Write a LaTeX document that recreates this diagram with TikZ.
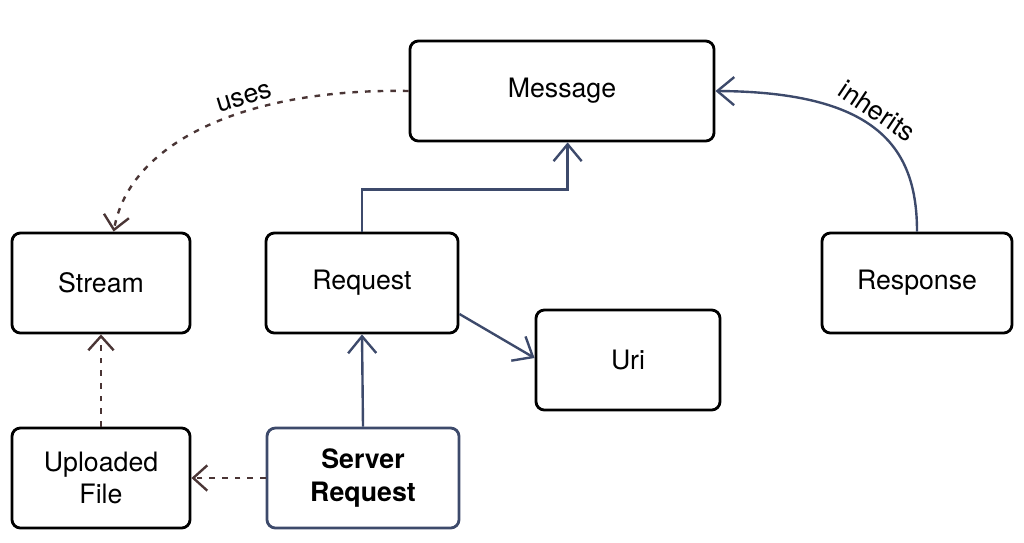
\documentclass[tikz,border=0pt]{standalone}
\usepackage{fontspec}
\setmainfont{TeX Gyre Heros}
\usetikzlibrary{arrows.meta,positioning}
\definecolor{linkblue}{HTML}{3D4A6B}
\definecolor{usebrown}{HTML}{4A3535}
\tikzset{
    box/.style={draw=black, line width=2pt, rounded corners=6pt, minimum width=4.45cm, minimum height=2.5cm, font=\fontsize{19}{23}\selectfont, align=center},
    inh/.style={draw=linkblue, line width=1.7pt, -{Straight Barb[length=12pt,width=20pt,line width=1.7pt]}},
    uses/.style={draw=usebrown, line width=1.7pt, dash pattern=on 4pt off 5pt, -{Straight Barb[length=10pt,width=18pt,line width=1.7pt]}},
}
\begin{document}
\begin{tikzpicture}[x=0.025cm, y=-0.025cm]
    \useasboundingbox (0,0) rectangle (1024,542);

    % Boxes
    \node[box, minimum width=7.6cm] (message) at (562,91) {Message};
    \node[box] (stream)   at (101,283) {Stream};
    \node[box, minimum width=4.8cm] (request)  at (362,283) {Request};
    \node[box, minimum width=4.75cm] (response) at (917,283) {Response};
    \node[box, minimum width=4.6cm] (uri)      at (628,360) {Uri};
    \node[box] (uploaded) at (101,478) {Uploaded\\File};
    \node[box, draw=linkblue, minimum width=4.8cm, font=\fontsize{19}{23}\selectfont\bfseries] (server) at (363,478) {Server\\Request};

    % Inheritance
    \draw[inh] (request.north) -- ++(0,-42) -| ([xshift=4]message.south);
    \draw[inh] (response.north) .. controls (917,150) and (880,92) .. (message.east)
        node[pos=0.55, sloped, above, text=black, font=\fontsize{19}{23}\selectfont] {inherits};
    \draw[inh] (server.north) -- (request.south);
    \draw[inh] (request.east |- 0,314) -- (uri.west |- 0,358);

    % Uses
    \draw[uses] (message.west) .. controls (250,88) and (130,140) .. ([xshift=9]stream.north)
        node[pos=0.38, sloped, above, text=black, font=\fontsize{19}{23}\selectfont] {uses};
    \draw[uses] (server.west) -- (uploaded.east);
    \draw[uses] (uploaded.north) -- (stream.south);
\end{tikzpicture}
\end{document}
